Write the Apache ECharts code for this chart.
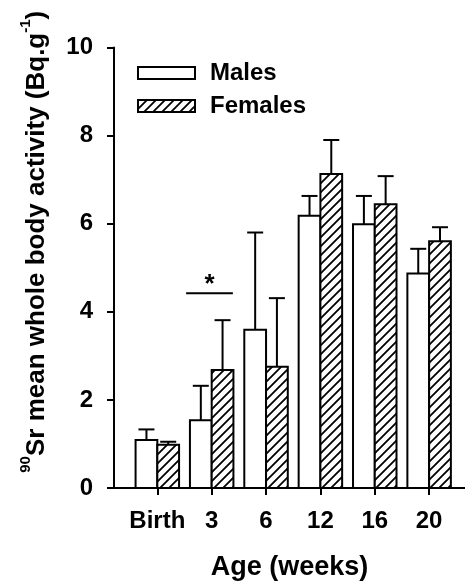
<!DOCTYPE html>
<html>
<head>
<meta charset="utf-8">
<script src="https://cdn.jsdelivr.net/npm/echarts@6/dist/echarts.min.js"></script>
<style>
html,body{margin:0;padding:0;background:#fff;}
#chart{width:465px;height:588px;}
</style>
</head>
<body>
<div id="chart"></div>
<script>
// ---- data ----
const xCats = ['Birth', '3', '6', '12', '16', '20'];
const xPos = [0, 1, 2, 3, 4, 5];
const malesMean = [1.09, 1.54, 3.59, 6.18, 5.99, 4.87];
const malesSE = [0.24, 0.78, 2.21, 0.45, 0.64, 0.56];
const femalesMean = [0.98, 2.68, 2.75, 7.13, 6.44, 5.60];
const femalesSE = [0.07, 1.13, 1.56, 0.77, 0.64, 0.32];
const yTicks = [0, 2, 4, 6, 8, 10];
// significance bracket: [xStart, xEnd, y]
const sigLine = [[0.53, 1.39, 4.42]];
const sigLabel = '*';

// ---- hatch pattern ----
function makeHatch() {
  const s = 9;
  const c = document.createElement('canvas');
  c.width = s; c.height = s;
  const g = c.getContext('2d');
  g.fillStyle = '#fff';
  g.fillRect(0, 0, s, s);
  g.strokeStyle = '#000';
  g.lineWidth = 1.8;
  g.beginPath();
  g.moveTo(-1, s + 1); g.lineTo(s + 1, -1);
  g.moveTo(-2, 2); g.lineTo(2, -2);
  g.moveTo(s - 2, s + 2); g.lineTo(s + 2, s - 2);
  g.stroke();
  return { image: c, repeat: 'repeat' };
}
const hatch = makeHatch();

const BAR_W = 0.4;
function barRenderer(offStart, fill) {
  return function (params, api) {
    const x = api.value(0), m = api.value(1), se = api.value(2);
    const p0 = api.coord([x + offStart, 0]);
    const p1 = api.coord([x + offStart + BAR_W, m]);
    const cxp = api.coord([x + offStart + BAR_W / 2, m]);
    const pe = api.coord([x + offStart + BAR_W / 2, m + se]);
    const cap = 8;
    return {
      type: 'group',
      children: [
        {
          type: 'rect',
          shape: { x: p0[0], y: p1[1], width: p1[0] - p0[0], height: p0[1] - p1[1] },
          style: { fill: fill, stroke: '#000', lineWidth: 2 }
        },
        {
          type: 'line',
          shape: { x1: cxp[0], y1: cxp[1], x2: pe[0], y2: pe[1] },
          style: { stroke: '#000', lineWidth: 2 }
        },
        {
          type: 'line',
          shape: { x1: pe[0] - cap, y1: pe[1], x2: pe[0] + cap, y2: pe[1] },
          style: { stroke: '#000', lineWidth: 2 }
        }
      ]
    };
  };
}

const chart = echarts.init(document.getElementById('chart'), null, { renderer: 'canvas' });
const FONT = 'Liberation Sans, Arial, sans-serif';

const option = {
  backgroundColor: '#fff',
  animation: false,
  grid: { left: 114, right: 0, top: 47.5, bottom: 100, containLabel: false, outerBoundsMode: 'none' },
  legend: {
    orient: 'vertical',
    left: 137,
    top: 61,
    padding: 0,
    itemWidth: 57,
    itemHeight: 12,
    itemGap: 9,
    icon: 'rect',
    textStyle: { fontFamily: FONT, fontSize: 24, fontWeight: 'bold', color: '#000', padding: [0, 0, 0, 10] },
    data: [
      { name: 'Males', itemStyle: { color: '#fff', borderColor: '#000', borderWidth: 2 } },
      { name: 'Females', itemStyle: { color: hatch, borderColor: '#000', borderWidth: 2 } }
    ]
  },
  xAxis: {
    type: 'value',
    min: -0.797,
    max: 5.66,
    name: 'Age (weeks)',
    nameLocation: 'middle',
    nameGap: 66,
    nameTextStyle: { fontFamily: FONT, fontSize: 27, fontWeight: 'bold', color: '#000' },
    axisLine: { show: true, onZero: false, lineStyle: { color: '#000', width: 2 } },
    axisTick: { show: true, length: 7, customValues: xPos, lineStyle: { color: '#000', width: 2 } },
    axisLabel: {
      customValues: xPos,
      margin: 21,
      fontFamily: FONT, fontSize: 24, fontWeight: 'bold', color: '#000',
      formatter: function (v) { return xCats[Math.round(v)]; }
    },
    splitLine: { show: false }
  },
  yAxis: {
    type: 'value',
    min: 0,
    max: 10,
    interval: 2,
    name: '{sup|90}{b|Sr mean whole body activity (Bq.g}{sup|-1}{b|)}',
    nameLocation: 'middle',
    nameGap: 64,
    nameTextStyle: {
      padding: [0, 0, 0, 52],
      rich: {
        b: { fontFamily: FONT, fontSize: 26, fontWeight: 'bold', color: '#000', lineHeight: 32, verticalAlign: 'bottom' },
        sup: { fontFamily: FONT, fontSize: 15, fontWeight: 'bold', color: '#000', lineHeight: 32, verticalAlign: 'top' }
      }
    },
    axisLine: { show: true, onZero: false, lineStyle: { color: '#000', width: 2 } },
    axisTick: { show: true, length: 7, lineStyle: { color: '#000', width: 2 } },
    axisLabel: {
      margin: 21,
      fontFamily: FONT, fontSize: 24, fontWeight: 'bold', color: '#000',
      formatter: function (v) { return yTicks.indexOf(v) >= 0 ? String(v) : ''; }
    },
    splitLine: { show: false }
  },
  series: [
    {
      name: 'Males',
      type: 'custom',
      itemStyle: { color: '#fff', borderColor: '#000', borderWidth: 2 },
      renderItem: barRenderer(-BAR_W, '#fff'),
      encode: { x: 0, y: 1 },
      data: xPos.map((x, i) => [x, malesMean[i], malesSE[i]])
    },
    {
      name: 'Females',
      type: 'custom',
      itemStyle: { color: hatch, borderColor: '#000', borderWidth: 2 },
      renderItem: barRenderer(0, hatch),
      encode: { x: 0, y: 1 },
      data: xPos.map((x, i) => [x, femalesMean[i], femalesSE[i]])
    },
    {
      name: 'sig',
      type: 'custom',
      renderItem: function (params, api) {
        const a = api.coord([api.value(0), api.value(2)]);
        const b = api.coord([api.value(1), api.value(2)]);
        return {
          type: 'group',
          children: [
            { type: 'line', shape: { x1: a[0], y1: a[1], x2: b[0], y2: b[1] }, style: { stroke: '#000', lineWidth: 2 } },
            {
              type: 'text',
              x: (a[0] + b[0]) / 2, y: a[1] - 21,
              style: { text: sigLabel, fontFamily: FONT, fontSize: 26, fontWeight: 'bold', fill: '#000', align: 'center', verticalAlign: 'top' }
            }
          ]
        };
      },
      encode: { x: 0, y: 2 },
      data: sigLine
    }
  ]
};
chart.setOption(option);
</script>
</body>
</html>
